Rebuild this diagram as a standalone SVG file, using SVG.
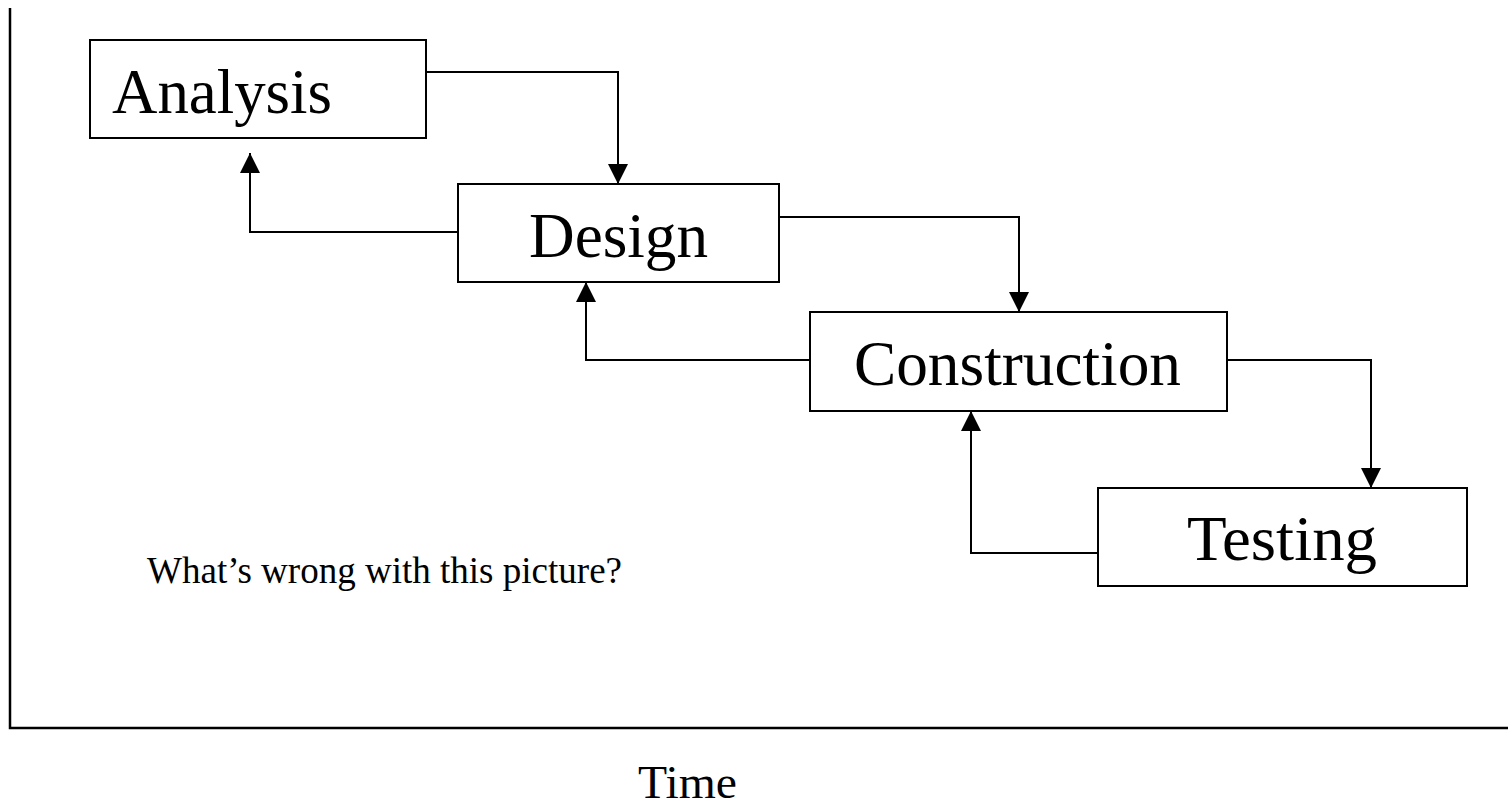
<svg xmlns="http://www.w3.org/2000/svg" width="1508" height="806" viewBox="0 0 1508 806">
  <style>
    .box { fill: #ffffff; stroke: #000000; stroke-width: 2; }
    .label { font-family: "Liberation Serif", "Times New Roman", serif; font-size: 64px; fill: #000000; }
    .note { font-family: "Liberation Serif", "Times New Roman", serif; fill: #000000; }
    .conn { fill: none; stroke: #000000; stroke-width: 2; marker-end: url(#arrow); }
    .axis { fill: none; stroke: #000000; stroke-width: 2.5; }
  </style>
  <defs>
    <marker id="arrow" viewBox="0 0 20 20" refX="20" refY="10" markerWidth="20" markerHeight="20" markerUnits="userSpaceOnUse" orient="auto">
      <path d="M0,0 L20,10 L0,20 z" fill="#000000"/>
    </marker>
  </defs>
  <rect width="1508" height="806" fill="#ffffff"/>

  <!-- time axis -->
  <g id="axes">
    <polyline class="axis" points="10,8 10,728 1508,728"/>
  </g>

  <!-- forward and feedback connectors -->
  <g id="connectors">
    <path class="conn" d="M426,72 H618 V184"/>
    <path class="conn" d="M458,232 H250 V153"/>
    <path class="conn" d="M779,217 H1019 V312"/>
    <path class="conn" d="M810,360 H586 V282"/>
    <path class="conn" d="M1227,360 H1371 V488"/>
    <path class="conn" d="M1098,553 H971 V411"/>
  </g>

  <g id="analysis">
    <rect class="box" x="90" y="40" width="336" height="98"/>
    <text class="label" x="112" y="113" textLength="220" lengthAdjust="spacingAndGlyphs">Analysis</text>
  </g>
  <g id="design">
    <rect class="box" x="458" y="184" width="321" height="98"/>
    <text class="label" x="529" y="257" textLength="179" lengthAdjust="spacingAndGlyphs">Design</text>
  </g>
  <g id="construction">
    <rect class="box" x="810" y="312" width="417" height="99"/>
    <text class="label" x="854" y="385" textLength="327" lengthAdjust="spacingAndGlyphs">Construction</text>
  </g>
  <g id="testing">
    <rect class="box" x="1098" y="488" width="369" height="98"/>
    <text class="label" x="1187" y="560" textLength="190" lengthAdjust="spacingAndGlyphs">Testing</text>
  </g>

  <g id="notes">
    <text class="note" x="147" y="583" font-size="37" textLength="475" lengthAdjust="spacingAndGlyphs">What’s wrong with this picture?</text>
    <text class="note" x="638" y="798" font-size="47" textLength="99" lengthAdjust="spacingAndGlyphs">Time</text>
  </g>
</svg>
